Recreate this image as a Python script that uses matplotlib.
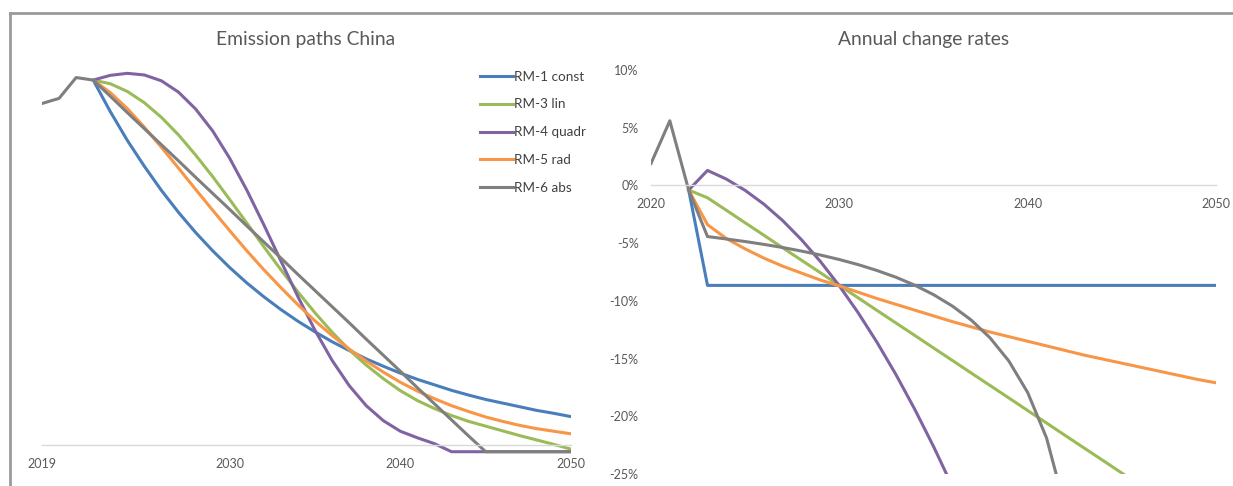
import matplotlib
matplotlib.use("Agg")
import matplotlib.pyplot as plt
from matplotlib.lines import Line2D
import numpy as np

plt.rcParams['font.family'] = ['Lato', 'DejaVu Sans']

# ---------------- data ----------------
hist_years = [2019, 2020, 2021, 2022]
path_years = list(range(2022, 2051))

# Emission paths (index, 2022 = 100)
rm6_hist = [93.6, 95.0, 100.7, 100.0]
rm1_path = [100, 91.4, 83.5, 76.4, 69.8, 63.8, 58.3, 53.3, 48.7, 44.5, 40.7, 37.2,
            34.0, 31.1, 28.4, 26.0, 23.7, 21.7, 19.8, 18.1, 16.6, 15.1, 13.8, 12.6,
            11.6, 10.6, 9.6, 8.8, 7.9]
rm3_path = [100, 99.0, 96.9, 93.8, 89.8, 85.0, 79.5, 73.6, 67.3, 60.9, 54.4, 48.1,
            42.0, 36.3, 31.0, 26.2, 22.0, 18.3, 15.0, 12.3, 10.1, 8.2, 6.6, 5.3,
            4.0, 2.7, 1.5, 0.3, -1.0]
rm4_path = [100, 101.3, 101.85, 101.4, 99.8, 96.7, 92.1, 86.1, 78.6, 69.9, 60.4,
            50.5, 40.7, 31.5, 23.3, 16.4, 10.9, 6.8, 3.9, 2.1, 0.5, -1.7, -1.7,
            -1.7, -1.7, -1.7, -1.7, -1.7, -1.7]
rm5_path = [100, 96.6, 92.2, 87.1, 81.6, 75.9, 70.1, 64.4, 58.8, 53.3, 48.1, 43.2,
            38.5, 34.1, 30.1, 26.4, 23.1, 20.1, 17.3, 14.9, 12.8, 10.9, 9.3, 7.8,
            6.6, 5.5, 4.6, 3.9, 3.2]
rm6_path = [100, 95.6, 91.1, 86.7, 82.3, 77.9, 73.4, 69.0, 64.6, 60.1, 55.7, 51.3,
            46.8, 42.4, 38.0, 33.6, 29.1, 24.7, 20.3, 15.8, 11.4, 7.0, 2.6, -1.7,
            -1.7, -1.7, -1.7, -1.7, -1.7]

# Annual change rates (%)
rate6_hist_years = [2020, 2021, 2022]
rate6_hist = [1.9, 5.6, -0.4]
rate1 = [-0.4] + [-8.66] * 28
rate3 = [-0.4, -1.07, -2.15, -3.24, -4.32, -5.41, -6.49, -7.57, -8.66, -9.74,
         -10.83, -11.91, -12.99, -14.08, -15.16, -16.25, -17.33, -18.41, -19.50,
         -20.58, -21.67, -22.75, -23.83, -24.92, -26.00, -27.09, -28.17, -29.25,
         -30.34]
rate4_years = list(range(2022, 2037))
rate4 = [-0.4, 1.30, 0.55, -0.43, -1.63, -3.06, -4.72, -6.60, -8.70, -11.03,
         -13.59, -16.37, -19.38, -22.61, -26.07]
rate5 = [-0.4, -3.4, -4.6, -5.5, -6.3, -7.0, -7.6, -8.2, -8.7, -9.25, -9.8, -10.3,
         -10.8, -11.3, -11.8, -12.25, -12.7, -13.1, -13.5, -13.9, -14.3, -14.7,
         -15.05, -15.4, -15.75, -16.1, -16.45, -16.8, -17.1]
rate6_years = list(range(2022, 2043))
rate6 = [-0.4, -4.43, -4.64, -4.86, -5.11, -5.38, -5.69, -6.03, -6.42, -6.86,
         -7.37, -7.95, -8.64, -9.46, -10.45, -11.66, -13.20, -15.21, -17.94,
         -21.87, -27.98]

labels = ["RM-1 const", "RM-3 lin", "RM-4 quadr", "RM-5 rad", "RM-6 abs"]
colors = ["#4A7EBB", "#9BBB59", "#8064A2", "#F79646", "#7F7F7F"]

left_ticks = [2019, 2030, 2040, 2050]
right_xticks = [2020, 2030, 2040, 2050]
right_yticks = [10, 5, 0, -5, -10, -15, -20, -25]

TEXT = "#595959"
AXIS = "#D9D9D9"
LW = 2.2

W, H = 1233, 486
fig = plt.figure(figsize=(W / 100, H / 100), dpi=100)


def box(x0, x1, ytop, ybot):
    return [x0 / W, 1 - ybot / H, (x1 - x0) / W, (ybot - ytop) / H]


def style_axes(ax):
    for s in ("left", "right", "top"):
        ax.spines[s].set_visible(False)
    ax.spines["bottom"].set_position(("data", 0))
    ax.spines["bottom"].set_color(AXIS)
    ax.spines["bottom"].set_linewidth(1.0)
    ax.tick_params(axis="both", length=0, colors=TEXT, labelsize=9)
    ax.set_facecolor("none")


# ---------------- left: emission paths ----------------
axl = fig.add_axes(box(42, 571, 60, 455))
style_axes(axl)
axl.plot(path_years, rm1_path, color=colors[0], lw=LW, label=labels[0])
axl.plot(path_years, rm3_path, color=colors[1], lw=LW, label=labels[1])
axl.plot(path_years, rm4_path, color=colors[2], lw=LW, label=labels[2])
axl.plot(path_years, rm5_path, color=colors[3], lw=LW, label=labels[3])
axl.plot(hist_years + path_years[1:], rm6_hist + rm6_path[1:], color=colors[4],
         lw=LW, label=labels[4])
axl.set_xlim(2019, 2050)
axl.set_ylim(-2.6, 105.5)
axl.set_yticks([])
axl.set_xticks(left_ticks)
axl.set_xticklabels([str(t) for t in left_ticks])
axl.tick_params(axis="x", pad=9)

leg = axl.legend(loc="upper left", bbox_to_anchor=(480 / W, 1 - 70.5 / H),
                 bbox_transform=fig.transFigure, frameon=False, fontsize=9.7,
                 handlelength=2.45, handletextpad=0.1, labelspacing=1.18,
                 borderpad=0, borderaxespad=0)
for t in leg.get_texts():
    t.set_color("#404040")

fig.text(306 / W, 1 - 40 / H, "Emission paths China", ha="center", va="center",
         fontsize=13.9, color=TEXT)

# ---------------- right: annual change rates ----------------
axr = fig.add_axes(box(651, 1216, 70, 474))
style_axes(axr)
axr.plot(path_years, rate1, color=colors[0], lw=LW)
axr.plot(path_years, rate3, color=colors[1], lw=LW)
axr.plot(rate4_years, rate4, color=colors[2], lw=LW)
axr.plot(path_years, rate5, color=colors[3], lw=LW)
axr.plot(rate6_hist_years + rate6_years[1:], rate6_hist + rate6[1:],
         color=colors[4], lw=LW)
axr.set_xlim(2020, 2050)
axr.set_ylim(-25, 10)
axr.set_xticks(right_xticks)
axr.set_xticklabels([str(t) for t in right_xticks])
axr.set_yticks(right_yticks)
axr.set_yticklabels([f"{v}%" for v in right_yticks])
axr.tick_params(axis="x", pad=9)
axr.tick_params(axis="y", pad=9)

fig.text(924 / W, 1 - 40 / H, "Annual change rates", ha="center", va="center",
         fontsize=13.9, color=TEXT)

# chart frame
fig.add_artist(Line2D([10 / W, 1], [1 - 13 / H, 1 - 13 / H], color="#9A9A9A",
                      lw=2, transform=fig.transFigure))
fig.add_artist(Line2D([10 / W, 10 / W], [0, 1 - 13 / H], color="#9A9A9A",
                      lw=2, transform=fig.transFigure))

fig.savefig("out.png", dpi=100, facecolor="white")
